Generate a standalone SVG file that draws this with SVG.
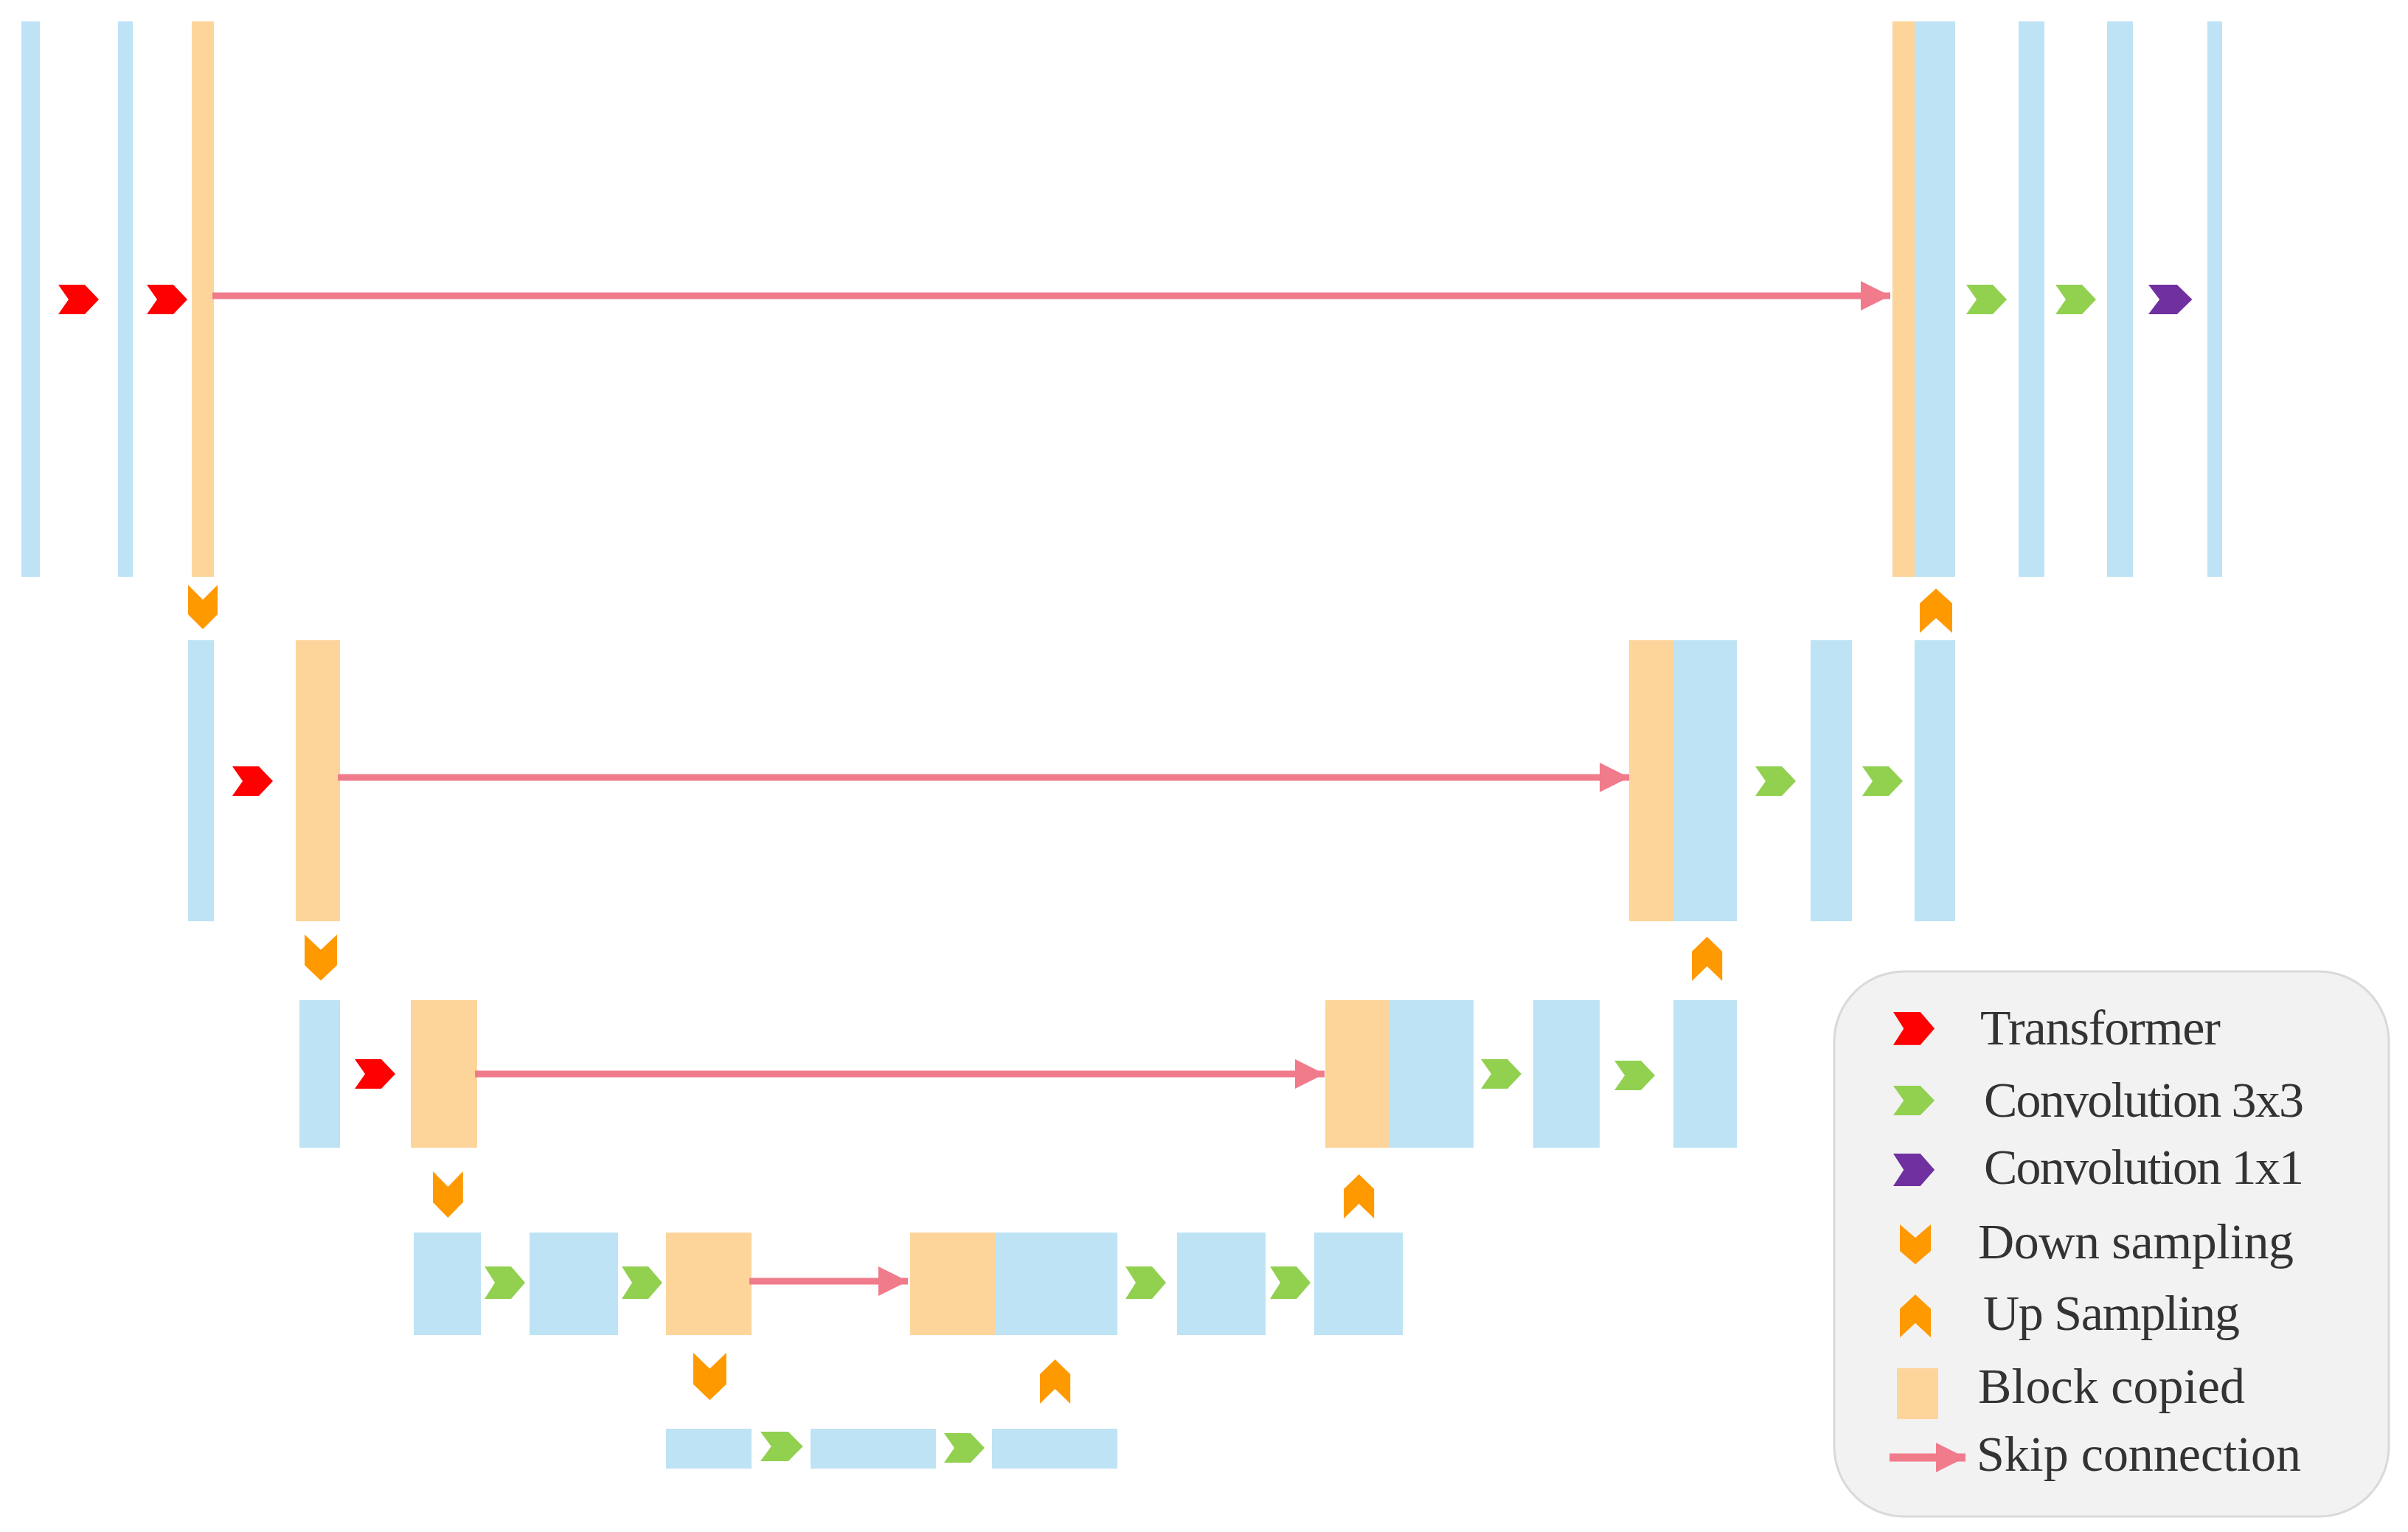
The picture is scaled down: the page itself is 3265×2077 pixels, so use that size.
<svg xmlns="http://www.w3.org/2000/svg" xmlns:xlink="http://www.w3.org/1999/xlink" width="3265" height="2077" viewBox="0 0 3265 2077">
<style>
.b{fill:#bde3f4}
.o{fill:#fdd59b}
.tr{fill:#ff0000}
.c3{fill:#92d050}
.c1{fill:#7030a0}
.ds{fill:#ff9900}
.sk{stroke:#f07b8b;stroke-width:9;fill:none}
.lg{fill:#f2f2f2;stroke:#d9d9d9;stroke-width:3}
.t{font-family:"Liberation Serif","Times New Roman",serif;font-size:68px;fill:#333333}
</style>
<defs>
<path id="chev" d="M0,0 H36 L55,20 L36,40 H0 L14,20 Z"/>
<path id="down" d="M0,0 L20,20 L40,0 V40 L20,60 L0,40 Z"/>
<path id="up" d="M20,0 L40,20 V60 L20,40 L0,60 V20 Z"/>
<marker id="ah" markerUnits="userSpaceOnUse" markerWidth="40" markerHeight="40" refX="40" refY="20" orient="auto" viewBox="0 0 40 40">
<path d="M0,0 L40,20 L0,40 Z" fill="#f07b8b"/>
</marker>
</defs>
<rect width="3265" height="2077" fill="#ffffff"/>

<!-- Row 1 -->
<g id="r1-in"><rect class="b" x="29" y="29" width="25" height="753"/></g>
<g id="r1-b2"><rect class="b" x="160" y="29" width="20" height="753"/></g>
<g id="r1-copy"><rect class="o" x="260" y="29" width="30" height="753"/></g>
<g id="r1-cat"><rect class="o" x="2566" y="29" width="30" height="753"/><rect class="b" x="2596" y="29" width="55" height="753"/></g>
<g id="r1-c1"><rect class="b" x="2737" y="29" width="35" height="753"/></g>
<g id="r1-c2"><rect class="b" x="2857" y="29" width="35" height="753"/></g>
<g id="r1-out"><rect class="b" x="2993" y="29" width="20" height="753"/></g>

<!-- Row 2 -->
<g id="r2-in"><rect class="b" x="255" y="868" width="35" height="381"/></g>
<g id="r2-copy"><rect class="o" x="401" y="868" width="60" height="381"/></g>
<g id="r2-cat"><rect class="o" x="2209" y="868" width="60" height="381"/><rect class="b" x="2269" y="868" width="86" height="381"/></g>
<g id="r2-c1"><rect class="b" x="2455" y="868" width="56" height="381"/></g>
<g id="r2-c2"><rect class="b" x="2596" y="868" width="55" height="381"/></g>

<!-- Row 3 -->
<g id="r3-in"><rect class="b" x="406" y="1356" width="55" height="200"/></g>
<g id="r3-copy"><rect class="o" x="557" y="1356" width="90" height="200"/></g>
<g id="r3-cat"><rect class="o" x="1797" y="1356" width="86" height="200"/><rect class="b" x="1883" y="1356" width="115" height="200"/></g>
<g id="r3-c1"><rect class="b" x="2079" y="1356" width="90" height="200"/></g>
<g id="r3-c2"><rect class="b" x="2269" y="1356" width="86" height="200"/></g>

<!-- Row 4 -->
<g id="r4-in"><rect class="b" x="561" y="1671" width="91" height="139"/></g>
<g id="r4-b2"><rect class="b" x="718" y="1671" width="120" height="139"/></g>
<g id="r4-copy"><rect class="o" x="903" y="1671" width="116" height="139"/></g>
<g id="r4-cat"><rect class="o" x="1234" y="1671" width="116" height="139"/><rect class="b" x="1350" y="1671" width="165" height="139"/></g>
<g id="r4-c1"><rect class="b" x="1596" y="1671" width="120" height="139"/></g>
<g id="r4-c2"><rect class="b" x="1782" y="1671" width="120" height="139"/></g>

<!-- Row 5 -->
<g id="r5-in"><rect class="b" x="903" y="1937" width="116" height="54"/></g>
<g id="r5-b2"><rect class="b" x="1099" y="1937" width="170" height="54"/></g>
<g id="r5-out"><rect class="b" x="1345" y="1937" width="170" height="54"/></g>

<!-- Operations -->
<g id="ops">
<use href="#chev" class="tr" x="79" y="386"/>
<use href="#chev" class="tr" x="199" y="386"/>
<use href="#chev" class="c3" x="2666" y="386"/>
<use href="#chev" class="c3" x="2787" y="386"/>
<use href="#chev" class="c1" transform="translate(2913,386) scale(1.08,1)"/>
<use href="#chev" class="tr" x="315" y="1039"/>
<use href="#chev" class="c3" x="2380" y="1039"/>
<use href="#chev" class="c3" x="2525" y="1039"/>
<use href="#chev" class="tr" x="481" y="1436"/>
<use href="#chev" class="c3" x="2008" y="1436"/>
<use href="#chev" class="c3" x="2189" y="1438"/>
<use href="#chev" class="c3" transform="translate(657,1717) scale(1,1.1)"/>
<use href="#chev" class="c3" transform="translate(843,1717) scale(1,1.1)"/>
<use href="#chev" class="c3" transform="translate(1526,1717) scale(1,1.1)"/>
<use href="#chev" class="c3" transform="translate(1722,1717) scale(1,1.1)"/>
<use href="#chev" class="c3" transform="translate(1031,1941) scale(1.05,1)"/>
<use href="#chev" class="c3" x="1280" y="1943"/>
<use href="#down" class="ds" x="255" y="793"/>
<use href="#down" class="ds" transform="translate(413,1267) scale(1.1,1.04)"/>
<use href="#down" class="ds" transform="translate(587,1588) scale(1.02,1.05)"/>
<use href="#down" class="ds" transform="translate(940,1834) scale(1.12,1.07)"/>
<use href="#up" class="ds" transform="translate(2603,798) scale(1.1,1)"/>
<use href="#up" class="ds" transform="translate(2294,1270) scale(1.03,1)"/>
<use href="#up" class="ds" transform="translate(1822,1592) scale(1.03,1)"/>
<use href="#up" class="ds" transform="translate(1410,1843) scale(1.03,1)"/>
</g>

<!-- Skip connections -->
<g id="connectors">
<line class="sk" x1="288" y1="401" x2="2563" y2="401" marker-end="url(#ah)"/>
<line class="sk" x1="458" y1="1054" x2="2209" y2="1054" marker-end="url(#ah)"/>
<line class="sk" x1="644" y1="1456" x2="1796" y2="1456" marker-end="url(#ah)"/>
<line class="sk" x1="1016" y1="1737" x2="1231" y2="1737" marker-end="url(#ah)"/>
</g>

<!-- Legend -->
<g id="legend">
<rect class="lg" x="2487" y="1317" width="752" height="739" rx="95" ry="95"/>
<use href="#chev" class="tr" transform="translate(2567,1372) scale(1.02,1.12)"/>
<text class="t" x="2685" y="1416" textLength="326" lengthAdjust="spacing">Transformer</text>
<use href="#chev" class="c3" transform="translate(2567,1472) scale(1.02,1.0)"/>
<text class="t" x="2690" y="1514" textLength="434" lengthAdjust="spacing">Convolution 3x3</text>
<use href="#chev" class="c1" transform="translate(2567,1564) scale(1.02,1.1)"/>
<text class="t" x="2690" y="1605" textLength="434" lengthAdjust="spacing">Convolution 1x1</text>
<use href="#down" class="ds" transform="translate(2576,1660) scale(1.05,0.9)"/>
<text class="t" x="2682" y="1706" textLength="428" lengthAdjust="spacing">Down sampling</text>
<use href="#up" class="ds" transform="translate(2576,1755) scale(1.05,0.97)"/>
<text class="t" x="2689" y="1803" textLength="348" lengthAdjust="spacing">Up Sampling</text>
<rect class="o" x="2572" y="1855" width="56" height="69"/>
<text class="t" x="2682" y="1902" textLength="362" lengthAdjust="spacing">Block copied</text>
<line x1="2562" y1="1976" x2="2665" y2="1976" stroke="#f07b8b" stroke-width="11" marker-end="url(#ah)"/>
<text class="t" x="2680" y="1994" textLength="440" lengthAdjust="spacing">Skip connection</text>
</g>
</svg>
